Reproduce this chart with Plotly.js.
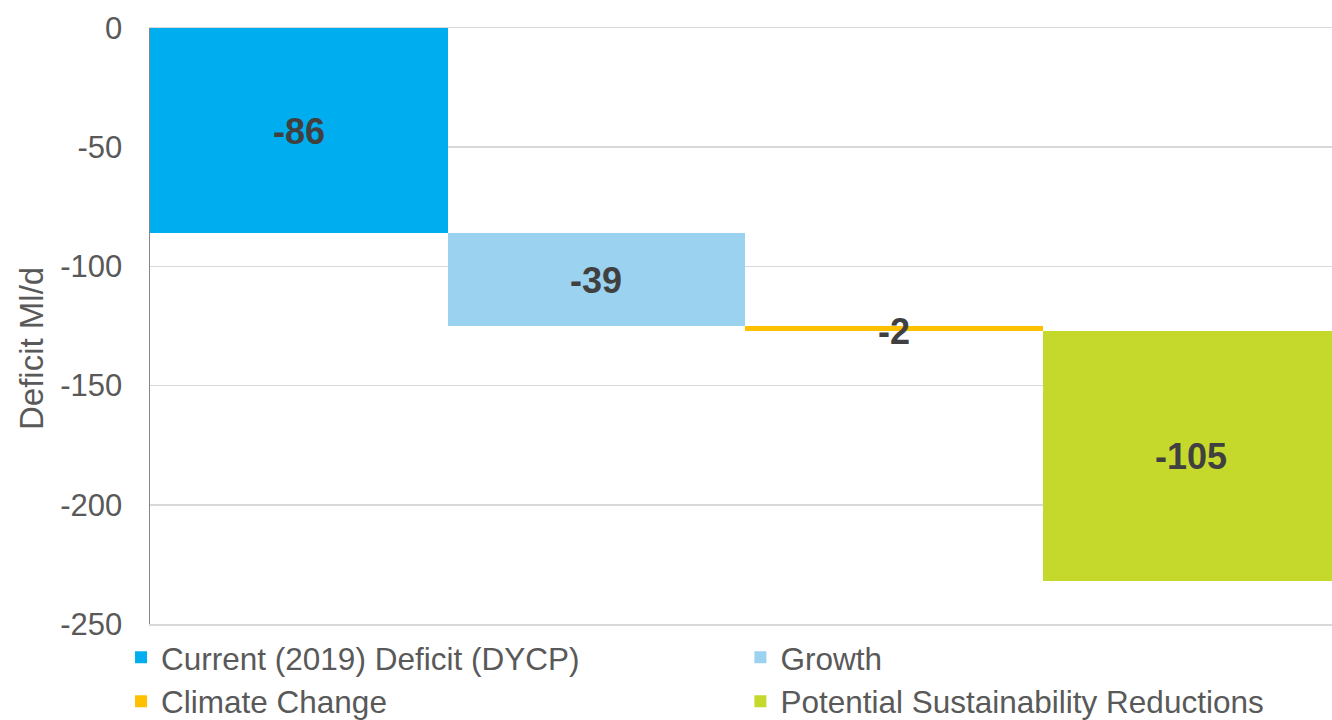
<!DOCTYPE html>
<html>
<head>
<meta charset="utf-8">
<script src="https://cdn.plot.ly/plotly-3.0.1.min.js"></script>
<style>html,body{margin:0;padding:0;background:#fff;}#chart{width:1332px;height:720px;}</style>
</head>
<body>
<div id="chart"></div>
<script>
const categories = ["Current (2019) Deficit (DYCP)", "Growth", "Climate Change", "Potential Sustainability Reductions"];
const values = [-86, -39, -2, -105];
const colors = ["#00AEEF", "#9BD2F0", "#FFC000", "#C5D92D"];
const legendColumn = ["legend", "legend2", "legend", "legend2"];
const tickValues = [0, -50, -100, -150, -200, -250];
const tickLabels = ["0", "-50", "-100", "-150", "-200", "-250"];
const yTitle = "Deficit Ml/d";

const FONT = "Arial, 'Liberation Sans', sans-serif";
const bases = [];
let run = 0;
values.forEach(v => { bases.push(run); run += v; });

const traces = categories.map((c, i) => ({
  type: "bar",
  name: c,
  x: [c],
  y: [values[i]],
  base: [bases[i]],
  legend: legendColumn[i],
  marker: {color: colors[i], line: {width: 0}},
  hoverinfo: "name+y"
}));

const annotations = categories.map((c, i) => ({
  x: c, y: bases[i] + values[i] / 2,
  xref: "x", yref: "y",
  text: "<b>" + String(values[i]) + "</b>",
  showarrow: false,
  yshift: (Math.abs(values[i]) < 5 ? -3 : -1),
  font: {family: FONT, size: 36, color: "#404040"}
}));
annotations.push({
  xref: "paper", yref: "paper",
  x: -0.0998, y: 0.4615,
  xanchor: "center", yanchor: "middle",
  text: yTitle, textangle: -90, showarrow: false,
  font: {family: FONT, size: 33, color: "#595959"}
});

const legendStyle = {
  orientation: "v",
  xanchor: "left",
  yanchor: "top",
  font: {family: FONT, size: 31.5, color: "#595959"},
  traceorder: "normal",
  bgcolor: "rgba(0,0,0,0)",
  borderwidth: 0
};

const layout = {
  width: 1332, height: 720,
  margin: {l: 150, r: 0, t: 28, b: 96, autoexpand: false},
  paper_bgcolor: "#ffffff", plot_bgcolor: "#ffffff",
  font: {family: FONT, color: "#595959"},
  barmode: "overlay",
  bargap: 0,
  showlegend: true,
  xaxis: {
    type: "category",
    categoryorder: "array", categoryarray: categories,
    range: [-0.5, 3.473],
    showticklabels: false, showgrid: false, zeroline: false,
    showline: true, mirror: true, linecolor: "#d9d9d9", linewidth: 1.5, ticks: ""
  },
  yaxis: {
    range: [-250, 0],
    tickvals: tickValues, ticktext: tickLabels,
    tickfont: {family: FONT, size: 31, color: "#595959"},
    ticks: "outside", ticklen: 20, tickcolor: "rgba(0,0,0,0)",
    showgrid: true, gridcolor: "#d9d9d9", gridwidth: 1.5,
    zeroline: false,
    showline: true, linecolor: "#868686", linewidth: 1.5
  },
  legend: Object.assign({}, legendStyle, {x: -0.0245, y: -0.0105}),
  legend2: Object.assign({}, legendStyle, {x: 0.4995, y: -0.0105}),
  annotations: annotations
};

Plotly.newPlot("chart", traces, layout, {displayModeBar: false, staticPlot: true});
</script>
</body>
</html>
